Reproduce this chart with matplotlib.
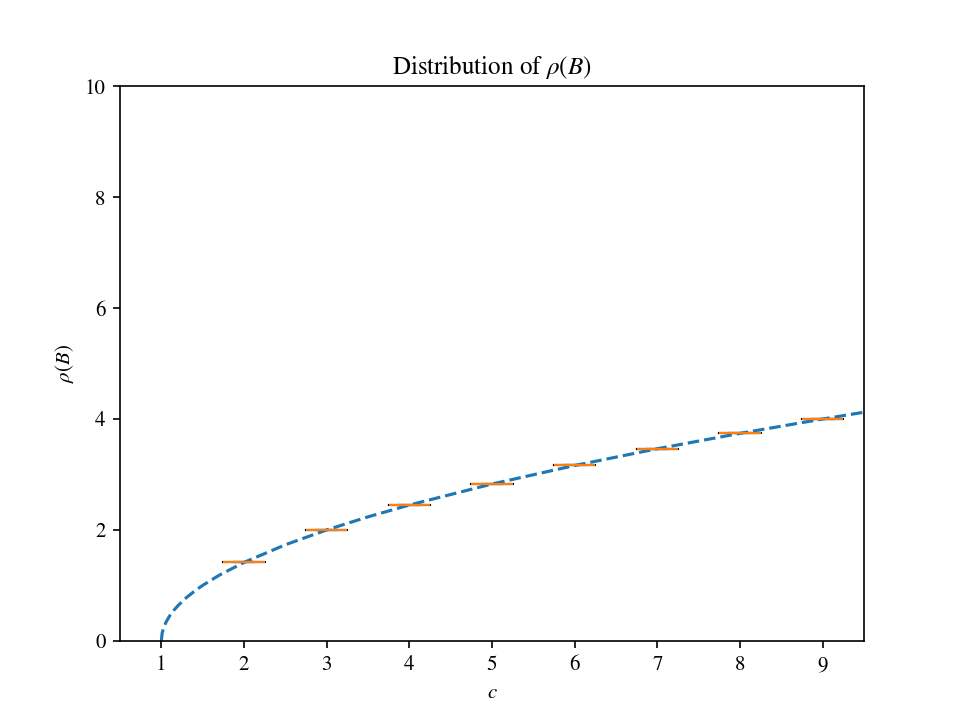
import matplotlib
matplotlib.use("Agg")
import matplotlib.pyplot as plt

plt.rcParams['font.family'] = ['STIXGeneral', 'DejaVu Serif']
plt.rcParams['mathtext.fontset'] = 'stix'

# sampled rho(B) values per c (all samples identical at each c)
c_values = [2, 3, 4, 5, 6, 7, 8, 9]
rho_samples = [1.414, 2.0, 2.449, 2.828, 3.162, 3.464, 3.742, 4.0]
tick_values = [1, 2, 3, 4, 5, 6, 7, 8, 9]

# reference curve
curve_c = [1, 1.01, 1.03, 1.06, 1.1, 1.15, 1.2, 1.3, 1.4, 1.5, 1.7, 2, 2.5,
           3, 3.5, 4, 5, 6, 7, 8, 9, 9.5]
curve_rho = [0, 0.141, 0.245, 0.346, 0.447, 0.548, 0.632, 0.775, 0.894, 1.0,
             1.183, 1.414, 1.732, 2.0, 2.236, 2.449, 2.828, 3.162, 3.464,
             3.742, 4.0, 4.123]

fig, ax = plt.subplots(figsize=(6.4, 4.8), dpi=150)

data = [[v] * 5 for v in rho_samples]
ax.boxplot(data, positions=c_values, widths=0.5)
ax.plot(curve_c, curve_rho, '--', color='C0', linewidth=1.5)

ax.set_xlim(0.5, 9.5)
ax.set_ylim(0, 10)
ax.set_xticks(tick_values)
ax.set_xticklabels([str(c) for c in tick_values])
ax.set_xlabel('$c$')
ax.set_ylabel(r'$\rho(B)$')
ax.set_title(r'Distribution of $\rho(B)$')

fig.savefig('out.png')
